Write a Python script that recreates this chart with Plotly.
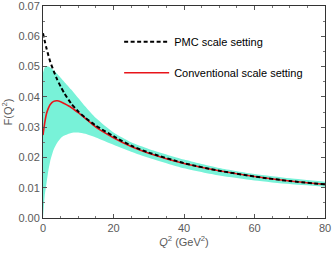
import plotly.graph_objects as go

q2 = [0, 0.5, 1, 1.5, 2, 3, 4, 5, 6, 8, 10, 12, 15, 20, 25, 30, 40, 50, 60, 70, 80]
pmc = [0.061, 0.0584, 0.0560, 0.0538, 0.0518, 0.0486, 0.0458, 0.0434, 0.0413, 0.0378, 0.0352, 0.0331,
       0.0305, 0.0270, 0.0239, 0.0216, 0.0181, 0.0156, 0.0137, 0.0122, 0.0111]
conv = [0.0274, 0.0315, 0.0345, 0.0362, 0.0374, 0.0385, 0.0387, 0.0384, 0.0378, 0.0365, 0.0348, 0.0329,
        0.0300, 0.0265, 0.0236, 0.0214, 0.0180, 0.0156, 0.0137, 0.0122, 0.0111]
band_low = [0.0, 0.0075, 0.0115, 0.0155, 0.0185, 0.0225, 0.0248, 0.0263, 0.0272, 0.0281, 0.0282, 0.0278,
            0.0266, 0.0242, 0.0219, 0.0199, 0.0164, 0.0140, 0.0124, 0.0112, 0.0103]
band_high = [0.0480, 0.0497, 0.0501, 0.0500, 0.0497, 0.0488, 0.0476, 0.0463, 0.0450, 0.0424, 0.0396, 0.0368,
             0.0330, 0.0282, 0.0250, 0.0228, 0.0193, 0.0165, 0.0145, 0.0131, 0.0120]

band_color = "rgb(120,242,216)"
fig = go.Figure()
fig.add_trace(go.Scatter(x=q2, y=band_low, mode="lines", line=dict(width=0, color=band_color, shape="spline", smoothing=0.6),
                         showlegend=False, hoverinfo="skip"))
fig.add_trace(go.Scatter(x=q2, y=band_high, mode="lines", line=dict(width=0, color=band_color, shape="spline", smoothing=0.6),
                         fill="tonexty", fillcolor=band_color, showlegend=False, hoverinfo="skip"))
fig.add_trace(go.Scatter(x=q2, y=conv, mode="lines", name="Conventional scale setting",
                         line=dict(color="#e8141a", width=1.6, shape="spline", smoothing=0.6), legendgroup="b",
                         legendrank=2))
fig.add_trace(go.Scatter(x=q2, y=pmc, mode="lines", name="PMC scale setting",
                         line=dict(color="black", width=2, dash="4px,2.5px", shape="spline", smoothing=0.6),
                         legendgroup="a", legendrank=1))

axis_common = dict(showline=True, linecolor="#333", linewidth=1, mirror="ticks", ticks="inside", ticklen=4,
                   tickcolor="#555", showgrid=False, zeroline=False, automargin=False, ticklabeloverflow="allow",
                   tickfont=dict(family="Liberation Sans, Arial", size=11, color="#5a5a5a"))
fig.update_xaxes(range=[0, 80], tickvals=[0, 20, 40, 60, 80],
                 minor=dict(ticks="inside", ticklen=2, dtick=5, tickcolor="#777"),
                 title=dict(text="<i>Q</i><sup>2</sup> (GeV<sup>2</sup>)",
                            font=dict(family="Liberation Sans, Arial", size=11, color="#5a5a5a"), standoff=4),
                 **axis_common)
fig.update_yaxes(range=[0, 0.07], dtick=0.01, tickformat=".2f",
                 minor=dict(ticks="inside", ticklen=2, dtick=0.005, tickcolor="#777"),
                 title=dict(text="F(Q<sup>2</sup>)",
                            font=dict(family="Liberation Sans, Arial", size=11, color="#5a5a5a"), standoff=6),
                 **axis_common)
fig.update_layout(width=332, height=253, margin=dict(l=43, r=7, t=6, b=35, autoexpand=False),
                  plot_bgcolor="white", paper_bgcolor="white",
                  legend=dict(x=0.27, y=0.90, xanchor="left", yanchor="top", bgcolor="rgba(0,0,0,0)",
                              font=dict(family="Liberation Sans, Arial", size=11, color="black"),
                              itemwidth=45, tracegroupgap=12),
                  showlegend=True)
fig.write_html("out.html", config={"displayModeBar": False},
               post_script="document.body.style.margin='0';document.body.style.overflow='hidden';")
